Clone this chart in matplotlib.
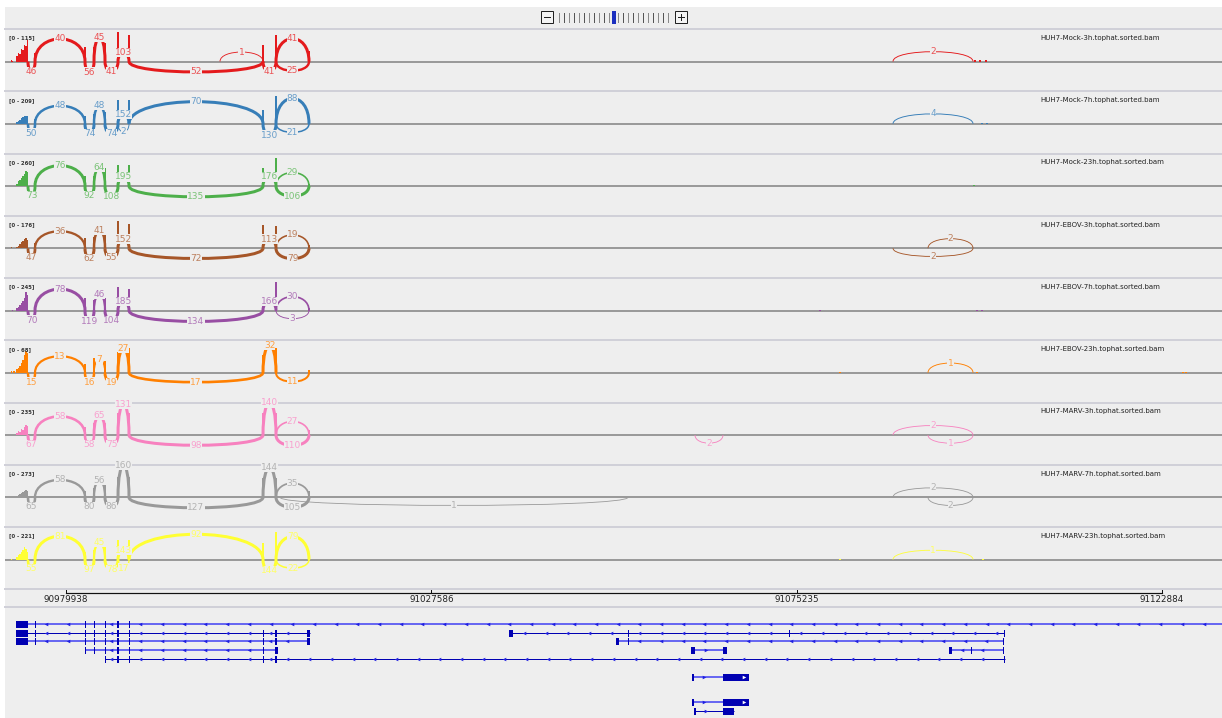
import numpy as np
import matplotlib
matplotlib.use("Agg")
import matplotlib.pyplot as plt
from matplotlib.path import Path
from matplotlib.patches import PathPatch, Rectangle
from matplotlib.colors import to_rgb

W, H = 1222, 718
BG = "#eeeeee"

# visible locus (bp)
VIEW = (90971980, 91130715)
RULER_TICKS = [90979938, 91027586, 91075235, 91122884]

SAMPLES = ["HUH7-Mock-3h", "HUH7-Mock-7h", "HUH7-Mock-23h",
           "HUH7-EBOV-3h", "HUH7-EBOV-7h", "HUH7-EBOV-23h",
           "HUH7-MARV-3h", "HUH7-MARV-7h", "HUH7-MARV-23h"]
RANGES = [115, 209, 260, 176, 245, 68, 235, 273, 221]
COLORS = ["#e41a1c", "#377eb8", "#4daf4a", "#a65628", "#984ea3",
          "#ff7f00", "#f781bf", "#999999", "#ffff33"]

# splice sites (bp)
S0, S1, S2, S3, S4 = 90974980, 90975895, 90982416, 90983590, 90985025
S5, S6, S7, S8, S9 = 90986720, 90988155, 91005633, 91007328, 91011632
A1, A2, A3 = 91000024, 91007850, 91053240
B1, B2 = 91061978, 91065631
C1, C2, C3 = 91087804, 91092369, 91098238
EXON_SITES = [S1, S2, S3, S4, S5, S6, S7, S8, S9]

# 3' end coverage (12 bins) and exon coverage, per sample
HIST_START, HIST_STEP = 90972700, 190
HIST = [
    [5, 3, 0, 0, 20, 35, 30, 50, 45, 65, 60, 85],
    [0, 0, 0, 0, 10, 20, 30, 40, 50, 55, 58, 58],
    [0, 0, 0, 0, 20, 40, 50, 70, 90, 110, 135, 120],
    [5, 0, 0, 0, 10, 15, 25, 35, 45, 55, 61, 50],
    [0, 5, 0, 0, 20, 30, 45, 60, 80, 100, 152, 130],
    [3, 0, 4, 0, 8, 12, 15, 22, 30, 40, 51, 45],
    [0, 0, 0, 0, 15, 30, 25, 45, 40, 60, 81, 70],
    [0, 0, 0, 0, 15, 25, 30, 40, 45, 55, 66, 60],
    [3, 0, 0, 0, 20, 35, 45, 55, 70, 91, 80, 60],
]
EXON_COV = [
    [32, 56, 56, 71, 115, 103, 63, 103, 40],
    [36, 58, 72, 86, 166, 166, 100, 200, 36],
    [45, 90, 90, 161, 188, 188, 161, 251, 20],
    [30, 61, 67, 79, 164, 146, 140, 134, 20],
    [30, 101, 85, 101, 194, 177, 110, 236, 25],
    [5, 21, 33, 28, 47, 56, 40, 56, 7],
    [20, 60, 97, 97, 178, 178, 178, 178, 40],
    [20, 60, 85, 113, 188, 188, 179, 179, 60],
    [30, 60, 68, 91, 144, 144, 122, 205, 38],
]
EXTRA_COV = [
    [(91098500, 4), (91099150, 4), (91099930, 4)],
    [(91099400, 6), (91100100, 6)],
    [(91098370, 10)],
    [(91080890, 3), (91098760, 4)],
    [(91078280, 5), (91098760, 6), (91099400, 6)],
    [(91080890, 2), (91098760, 2), (91125630, 2), (91126020, 2)],
    [(91078280, 4), (91099800, 4)],
    [(91078280, 5), (91098760, 6)],
    [(91080890, 4), (91099500, 4)],
]

# junctions: (start, end, reads, side) side 1 = above, -1 = below
JUNCTIONS = [
    [(S0, S1, 46, -1), (S1, S2, 40, 1), (S2, S3, 56, -1), (S3, S4, 45, 1),
     (S4, S5, 41, -1), (S5, S6, 103, 1), (S6, S7, 52, -1), (A1, S7, 1, 1),
     (S7, S8, 41, -1), (S8, S9, 41, 1), (S8, S9, 25, -1), (C1, C3, 2, 1)],
    [(S0, S1, 50, -1), (S1, S2, 48, 1), (S2, S3, 74, -1), (S3, S4, 48, 1),
     (S4, S5, 74, -1), (S5, S6, 2, -1), (S5, S6, 152, 1), (S6, S7, 70, 1),
     (S7, S8, 130, -1), (S8, S9, 88, 1), (S8, S9, 21, -1), (C1, C3, 4, 1)],
    [(S0, S1, 73, -1), (S1, S2, 76, 1), (S2, S3, 92, -1), (S3, S4, 64, 1),
     (S4, S5, 108, -1), (S5, S6, 195, 1), (S6, S7, 135, -1), (S7, S8, 176, 1),
     (S8, S9, 29, 1), (S8, S9, 106, -1)],
    [(S0, S1, 47, -1), (S1, S2, 36, 1), (S2, S3, 62, -1), (S3, S4, 41, 1),
     (S4, S5, 55, -1), (S5, S6, 152, 1), (S6, S7, 72, -1), (S7, S8, 113, 1),
     (S8, S9, 19, 1), (S8, S9, 79, -1), (C2, C3, 2, 1), (C1, C3, 2, -1)],
    [(S0, S1, 70, -1), (S1, S2, 78, 1), (S2, S3, 119, -1), (S3, S4, 46, 1),
     (S4, S5, 104, -1), (S5, S6, 185, 1), (S6, S7, 134, -1), (S7, S8, 166, 1),
     (S8, S9, 30, 1), (S8, S9, 3, -1)],
    [(S0, S1, 15, -1), (S1, S2, 13, 1), (S2, S3, 16, -1), (S3, S4, 7, 1),
     (S4, S5, 19, -1), (S5, S6, 27, 1), (S6, S7, 17, -1), (S7, S8, 32, 1),
     (S8, S9, 11, -1), (C2, C3, 1, 1)],
    [(S0, S1, 67, -1), (S1, S2, 58, 1), (S2, S3, 58, -1), (S3, S4, 65, 1),
     (S4, S5, 75, -1), (S5, S6, 131, 1), (S6, S7, 98, -1), (S7, S8, 140, 1),
     (S8, S9, 27, 1), (S8, S9, 110, -1), (B1, B2, 2, -1), (C1, C3, 2, 1),
     (C2, C3, 1, -1)],
    [(S0, S1, 65, -1), (S1, S2, 58, 1), (S2, S3, 80, -1), (S3, S4, 56, 1),
     (S4, S5, 86, -1), (S5, S6, 160, 1), (S6, S7, 127, -1), (S7, S8, 144, 1),
     (S8, S9, 35, 1), (S8, S9, 105, -1), (A2, A3, 1, -1), (C1, C3, 2, 1),
     (C2, C3, 2, -1)],
    [(S0, S1, 55, -1), (S1, S2, 81, 1), (S2, S3, 97, -1), (S3, S4, 45, 1),
     (S4, S5, 78, -1), (S5, S6, 17, -1), (S5, S6, 143, 1), (S6, S7, 92, 1),
     (S7, S8, 144, -1), (S8, S9, 79, 1), (S8, S9, 22, -1), (C1, C3, 1, 1)],
]

# gene models: (row, strand, light, exons)
EX_5P = [(90973416, 90974982), (90975830, 90975960), (90982350, 90982480),
         (90983530, 90983660), (90984960, 90985090), (90986650, 90986790),
         (90988090, 90988220)]
EX_MID = [(91005570, 91005700), (91007260, 91007400)]
TRANSCRIPTS = [
    (0, -1, True, EX_5P + [(91135000, 91135100)]),
    (1, -1, False, EX_5P + EX_MID + [(91011370, 91011760)]),
    (1, -1, False, [(91037718, 91038240), (91053200, 91053300),
                    (91074200, 91074300), (91102240, 91102340)]),
    (2, -1, True, EX_5P + EX_MID + [(91011370, 91011760)]),
    (2, -1, True, [(91051675, 91052066), (91053200, 91053300),
                   (91102100, 91102200)]),
    (3, -1, True, EX_5P[2:] + [(91005570, 91005700), (91007200, 91007590)]),
    (3, 1, True, [(91061456, 91061980), (91065631, 91066153)]),
    (3, -1, True, [(91095107, 91095450), (91097920, 91098050),
                   (91102100, 91102200)]),
    (4, -1, False, EX_5P[4:] + EX_MID + [(91102240, 91102370)]),
    (5, 1, True, [(91061650, 91061800), (91065631, 91069023)]),
    (6, 1, True, [(91061650, 91061800), (91065631, 91069023)]),
    (7, 1, False, [(91061900, 91062050), (91065631, 91067066)]),
]

# ---- layout (pixels) ----
TRACK_TOP, TRACK_H, BASE_OFF, UNIT_PX = 29, 62.25, 32, 29
ROW_Y = [624, 633, 641, 650, 659, 677, 702, 711]
SEP = "#d0d0d8"
PX = 72 / 100  # points per pixel


def box(x0, y0, x1, y1):
    return [x0 / W, 1 - y1 / H, (x1 - x0) / W, (y1 - y0) / H]


def lighten(c, f=0.25):
    r = np.array(to_rgb(c))
    return tuple(r + (1 - r) * f)


fig = plt.figure(figsize=(W / 100, H / 100), dpi=100)
fig.patch.set_facecolor("white")

# chrome
bg = fig.add_axes([0, 0, 1, 1])
bg.set_xlim(0, W)
bg.set_ylim(H, 0)
bg.axis("off")
bg.add_patch(Rectangle((5, 7), W - 5, H - 7, color=BG, lw=0))
for i in range(10):
    y = TRACK_TOP + i * TRACK_H
    bg.plot([5, W], [y, y], color=SEP, lw=2 * PX)
bg.plot([5, W], [607, 607], color=SEP, lw=2 * PX)

# zoom widget
for x0, sym in [(541, "-"), (675, "+")]:
    bg.add_patch(Rectangle((x0, 11), 12, 12, fc="#f4f4f4", ec="#222", lw=1 * PX))
    bg.plot([x0 + 3, x0 + 9], [17, 17], color="#222", lw=1 * PX)
    if sym == "+":
        bg.plot([x0 + 6, x0 + 6], [14, 20], color="#222", lw=1 * PX)
for k, x in enumerate(np.linspace(559, 668, 23)):
    if k == 11:
        bg.add_patch(Rectangle((x - 1.5, 11), 3.5, 13, color="#1c2fbf", lw=0))
    else:
        bg.plot([x, x], [13, 22], color="#555" if k % 2 else "#888", lw=1 * PX)

# sashimi tracks
for i in range(len(SAMPLES)):
    top = TRACK_TOP + i * TRACK_H
    ax = fig.add_axes(box(5, top + 1, W, top + TRACK_H))
    ax.set_xlim(*VIEW)
    ax.set_ylim(-(TRACK_H - 1 - BASE_OFF) / UNIT_PX, (BASE_OFF - 1) / UNIT_PX)
    ax.axis("off")
    rng, col = RANGES[i], COLORS[i]
    lab = lighten(col, 0.25)

    ax.axhline(0, color="#9a9a9a", lw=2 * PX, zorder=1)

    hx = HIST_START + HIST_STEP * np.arange(len(HIST[i]))
    ax.bar(hx, np.array(HIST[i]) / rng, width=HIST_STEP,
           align="edge", color=col, lw=0, zorder=2)
    ax.bar(EXON_SITES, np.array(EXON_COV[i]) / rng, width=170,
           color=col, lw=0, zorder=2)
    ex_x = [p for p, _ in EXTRA_COV[i]]
    ex_y = [v / rng for _, v in EXTRA_COV[i]]
    ax.bar(ex_x, ex_y, width=300, color=col, lw=0, zorder=2)

    for x1, x2, reads, side in JUNCTIONS[i]:
        r = reads / rng
        if side > 0:
            hpx = 9 + 38 * r
            if r > 0.62:  # deepest junctions come out as short arcs
                hpx = 9
        else:
            hpx = 8 + 5 * r
        h = side * hpx / UNIT_PX
        c = h / 0.75
        path = Path([(x1, 0), (x1, c), (x2, c), (x2, 0)],
                    [Path.MOVETO, Path.CURVE4, Path.CURVE4, Path.CURVE4])
        lw = (0.8 + 2.2 * min(1, reads / (0.3 * rng))) * PX
        ax.add_patch(PathPatch(path, fill=False, ec=col, lw=lw,
                               capstyle="butt", zorder=3))
        ax.text((x1 + x2) / 2, h, str(reads), ha="center", va="center",
                fontsize=6.5, color=lab, zorder=4,
                bbox=dict(fc=BG, ec="none", pad=0.15))

    ax.text(0.0033, 0.87, f"[0 - {rng}]", transform=ax.transAxes,
            fontsize=3.8, color="#333", fontweight="bold", va="center")
    ax.text(0.8505, 0.87, f"{SAMPLES[i]}.tophat.sorted.bam",
            transform=ax.transAxes, fontsize=5, color="#222", va="center")

# ruler
ru = fig.add_axes(box(5, 589, W, 607))
ru.set_xlim(*VIEW)
ru.set_ylim(18, 0)
ru.axis("off")
ru.plot([RULER_TICKS[0], RULER_TICKS[-1]], [4, 4], color="#111", lw=1.2 * PX)
for t in RULER_TICKS:
    ru.plot([t, t], [4, 0.8], color="#111", lw=1 * PX)
    ru.text(t, 11, str(t), ha="center", va="center", fontsize=6.3, color="#222")

# gene track
ga = fig.add_axes(box(5, 607, W, H))
ga.set_xlim(*VIEW)
ga.set_ylim(H, 607)
ga.axis("off")
step = 2830
for row, strand, light, exons in TRANSCRIPTS:
    y = ROW_Y[row]
    lc = (0.28, 0.28, 0.95) if light else "#0000b2"
    lw = (1.6 if light else 1.0) * PX
    s, e = exons[0][0], exons[-1][1]
    ga.plot([s, e], [y, y], color=lc, lw=lw, zorder=1, solid_capstyle="butt")
    for a, b in exons:
        ga.add_patch(Rectangle((a, y - 3.5), max(b - a, 220), 7,
                               color="#0000b2", lw=0, zorder=2))
    mk = "<" if strand < 0 else ">"
    pts = []
    for (a0, b0), (a1, b1) in zip(exons[:-1], exons[1:]):
        xs = np.arange(b0 + step * 0.5, a1 - 300, step)
        if len(xs) == 0 and a1 - b0 > 1500:
            xs = [(b0 + a1) / 2]
        pts.extend(xs)
    ga.plot(pts, [y] * len(pts), ls="none", marker=mk, ms=2.6,
            color="#2020e0", mew=0, zorder=3)
    if strand > 0 and exons[-1][1] - exons[-1][0] > 2500:
        a, b = exons[-1]
        ga.plot([a + (b - a) * 0.8], [y], ls="none", marker=">", ms=2.6,
                color="white", mew=0, zorder=4)

fig.savefig("out.png", dpi=100, facecolor=fig.get_facecolor())
